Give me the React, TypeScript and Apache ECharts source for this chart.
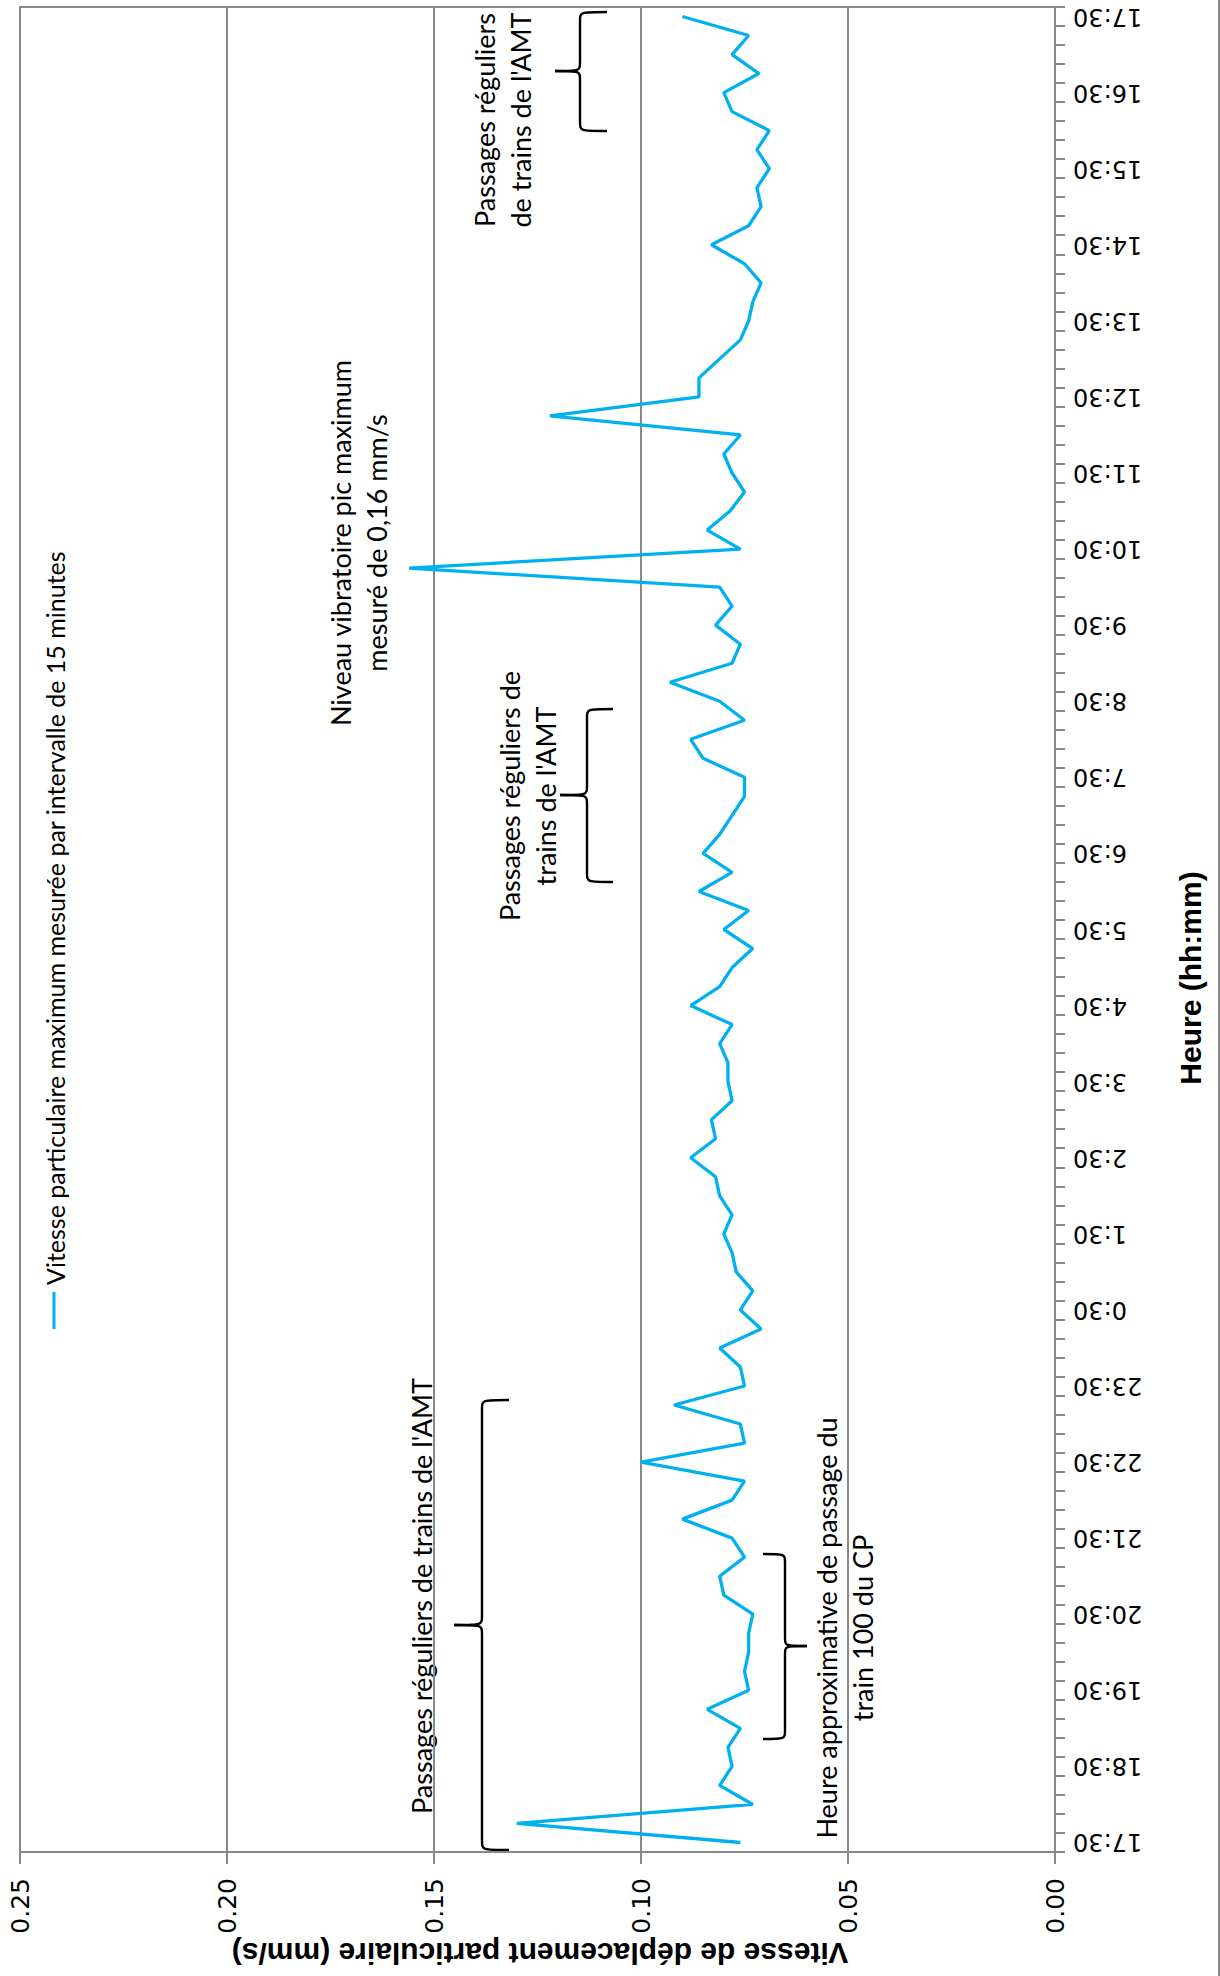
import React, { useEffect, useRef } from "react";
import * as echarts from "echarts";

// 15-minute intervals from 17:30 to 17:30 the next day (97 categories)
const TIME_CATEGORIES: string[] = (() => {
  const out: string[] = [];
  for (let k = 0; k < 97; k++) {
    const m = (17 * 60 + 30 + 15 * k) % 1440;
    out.push(`${Math.floor(m / 60)}:${String(m % 60).padStart(2, "0")}`);
  }
  return out;
})();

// Peak particle velocity per 15-minute interval (mm/s)
const VELOCITY: number[] = [
  0.076, 0.13, 0.073, 0.081, 0.078, 0.079, 0.076, 0.084, 0.074, 0.075,
  0.074, 0.074, 0.073, 0.08, 0.081, 0.075, 0.078, 0.09, 0.078, 0.075,
  0.1, 0.075, 0.076, 0.092, 0.075, 0.076, 0.081, 0.071, 0.076, 0.073,
  0.077, 0.078, 0.08, 0.078, 0.081, 0.082, 0.088, 0.082, 0.083, 0.078,
  0.079, 0.079, 0.081, 0.078, 0.088, 0.081, 0.078, 0.073, 0.08, 0.074,
  0.086, 0.078, 0.085, 0.081, 0.078, 0.075, 0.075, 0.085, 0.088, 0.075,
  0.081, 0.093, 0.078, 0.076, 0.082, 0.078, 0.081, 0.156, 0.076, 0.084,
  0.0785, 0.075, 0.078, 0.08, 0.076, 0.122, 0.086, 0.086, 0.081, 0.076,
  0.074, 0.073, 0.071, 0.075, 0.083, 0.074, 0.071, 0.072, 0.069, 0.072,
  0.069, 0.078, 0.08, 0.0715, 0.078, 0.074, 0.09,
];

const VALUE_MIN = 0;
const VALUE_MAX = 0.25;
const VALUE_STEP = 0.05;

const SERIES_NAME = "Vitesse particulaire maximum mesurée par intervalle de 15 minutes";
const X_TITLE = "Heure (hh:mm)";
const Y_TITLE = "Vitesse de déplacement particulaire (mm/s)";

const NOTE_PEAK = "Niveau vibratoire pic maximum\nmesuré de 0,16 mm/s";
const NOTE_AMT_MID = "Passages réguliers de\ntrains de l'AMT";
const NOTE_AMT_TOP = "Passages réguliers\nde trains de l'AMT";
const NOTE_AMT_BOTTOM = "Passages réguliers de trains de l'AMT";
const NOTE_CP = "Heure approximative de passage du\ntrain 100 du CP";

const ANNO_FONT = "Lato";
const ANNO_SIZE = 27;
const GRAY = "#898989";
const BLUE = "#00B0F0";

function brace(xe: number, xs: number, xt: number, y1: number, y2: number, ym: number, r: number) {
  const style = { stroke: "#000", lineWidth: 2.4, fill: "none" };
  const bez = (x1: number, y1_: number, cx: number, cy: number, x2: number, y2_: number) => ({
    type: "bezierCurve",
    silent: true,
    shape: { x1, y1: y1_, cpx1: cx, cpy1: cy, cpx2: cx, cpy2: cy, x2, y2: y2_ },
    style,
  });
  const ln = (x1: number, a: number, x2: number, b: number) => ({
    type: "line",
    silent: true,
    shape: { x1, y1: a, x2, y2: b },
    style,
  });
  return [
    bez(xe, y1, xs, y1, xs, y1 + r),
    ln(xs, y1 + r, xs, ym - r),
    bez(xs, ym - r, xs, ym, xt, ym),
    bez(xt, ym, xs, ym, xs, ym + r),
    ln(xs, ym + r, xs, y2 - r),
    bez(xs, y2 - r, xs, y2, xe, y2),
  ];
}

function note(text: string, x: number, y: number) {
  return {
    type: "text",
    silent: true,
    x,
    y,
    rotation: Math.PI / 2,
    style: {
      text,
      fontFamily: ANNO_FONT,
      fontSize: ANNO_SIZE,
      lineHeight: 36,
      fill: "#000",
      textAlign: "center",
      textVerticalAlign: "middle",
      align: "center",
      verticalAlign: "middle",
    },
  };
}

export default function App() {
  const ref = useRef<HTMLDivElement>(null);

  useEffect(() => {
    if (!ref.current) return;
    const chart = echarts.init(ref.current, undefined, { renderer: "svg" });

    const option: any = {
      animation: false,
      backgroundColor: "#fff",
      grid: {
        left: 20,
        right: 165,
        top: 7,
        bottom: 124,
        show: true,
        borderColor: GRAY,
        borderWidth: 2,
        containLabel: false,
      },
      xAxis: {
        type: "value",
        min: VALUE_MIN,
        max: VALUE_MAX,
        interval: VALUE_STEP,
        inverse: true,
        position: "bottom",
        axisLine: { show: true, lineStyle: { color: GRAY, width: 2 } },
        axisTick: { show: true, length: 12, lineStyle: { color: GRAY, width: 2 } },
        splitLine: { show: true, lineStyle: { color: GRAY, width: 2 } },
        axisLabel: {
          rotate: 90,
          margin: 26,
          fontFamily: "DejaVu Sans",
          fontSize: 25,
          color: "#000",
          formatter: (v: number) => v.toFixed(2),
        },
      },
      yAxis: {
        type: "category",
        data: TIME_CATEGORIES,
        position: "right",
        boundaryGap: true,
        axisLine: { show: true, lineStyle: { color: GRAY, width: 2 } },
        axisTick: { show: true, interval: 0, length: 10, lineStyle: { color: GRAY, width: 2 } },
        splitLine: { show: false },
        axisLabel: {
          interval: 3,
          rotate: 180,
          margin: 18,
          fontFamily: "DejaVu Sans",
          fontSize: 24,
          color: "#000",
        },
      },
      series: [
        {
          name: SERIES_NAME,
          type: "line",
          data: VELOCITY.map((v, i) => [v, i]),
          symbol: "none",
          lineStyle: { color: BLUE, width: 3.3 },
          itemStyle: { color: BLUE },
        },
      ],
      graphic: [
        // outer border (right edge)
        { type: "line", silent: true, shape: { x1: 1219, y1: 0, x2: 1219, y2: 1976 }, style: { stroke: GRAY, lineWidth: 2 } },
        // legend
        { type: "line", silent: true, shape: { x1: 54, y1: 1329, x2: 54, y2: 1292 }, style: { stroke: BLUE, lineWidth: 3 } },
        {
          type: "text",
          silent: true,
          x: 55,
          y: 1285,
          rotation: Math.PI / 2,
          style: {
            text: SERIES_NAME,
            fontFamily: ANNO_FONT,
            fontSize: 25,
            fill: "#000",
            textAlign: "left",
            textVerticalAlign: "middle",
            align: "left",
            verticalAlign: "middle",
          },
        },
        // axis titles
        {
          type: "text",
          silent: true,
          x: 1190,
          y: 978,
          rotation: Math.PI / 2,
          style: {
            text: X_TITLE,
            fontFamily: "Liberation Sans",
            fontWeight: "bold",
            fontSize: 30,
            fill: "#000",
            textAlign: "center",
            textVerticalAlign: "middle",
            align: "center",
            verticalAlign: "middle",
          },
        },
        {
          type: "text",
          silent: true,
          x: 540,
          y: 1953,
          rotation: Math.PI,
          style: {
            text: Y_TITLE,
            fontFamily: "Liberation Sans",
            fontWeight: "bold",
            fontSize: 30,
            fill: "#000",
            textAlign: "center",
            textVerticalAlign: "middle",
            align: "center",
            verticalAlign: "middle",
          },
        },
        // annotations
        note(NOTE_PEAK, 358, 543),
        note(NOTE_AMT_MID, 527, 796),
        note(NOTE_AMT_TOP, 502, 120),
        note(NOTE_AMT_BOTTOM, 421, 1596),
        note(NOTE_CP, 844, 1628),
        ...brace(607, 580, 555, 12, 131, 71, 9),
        ...brace(613, 587, 560, 709, 882, 795, 9),
        ...brace(509, 482, 454, 1400, 1850, 1625, 9),
        ...brace(763, 785, 807, 1554, 1739, 1646, 9),
      ],
    };

    chart.setOption(option);
    return () => chart.dispose();
  }, []);

  return (
    <div
      ref={ref}
      style={{ position: "absolute", left: 0, top: 0, width: 1220, height: 1976 }}
    />
  );
}
